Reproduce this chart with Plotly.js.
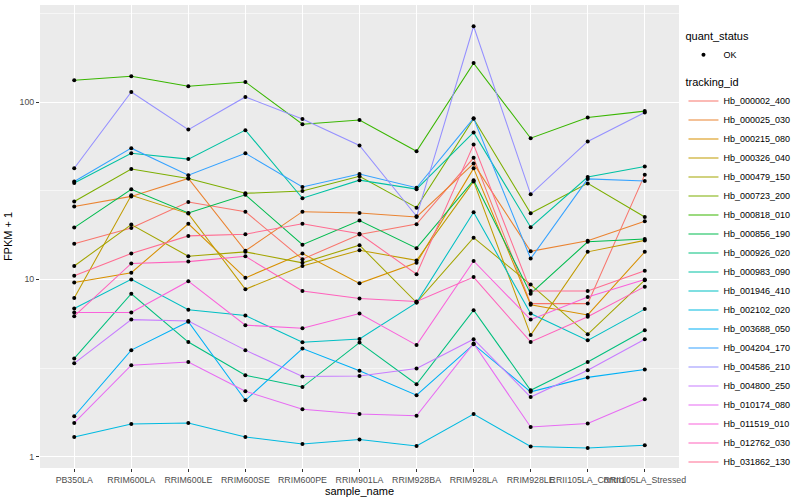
<!DOCTYPE html>
<html>
<head>
<meta charset="utf-8">
<script src="https://cdn.plot.ly/plotly-3.0.1.min.js"></script>
<style>html,body{margin:0;padding:0;background:#fff;}#chart{width:800px;height:500px;}</style>
</head>
<body>
<div id="chart"></div>
<script>
// ---- data (FPKM + 1) ----
var samples = ["PB350LA","RRIM600LA","RRIM600LE","RRIM600SE","RRIM600PE","RRIM901LA","RRIM928BA","RRIM928LA","RRIM928LE","RRII105LA_Control","RRII105LA_Stressed"];

var trackingIds = ["Hb_000002_400","Hb_000025_030","Hb_000215_080","Hb_000326_040","Hb_000479_150","Hb_000723_200","Hb_000818_010","Hb_000856_190","Hb_000926_020","Hb_000983_090","Hb_001946_410","Hb_002102_020","Hb_003688_050","Hb_004204_170","Hb_004586_210","Hb_004800_250","Hb_010174_080","Hb_011519_010","Hb_012762_030","Hb_031862_130"];

var Hb_000002_400 = [15.9, 19.5, 27.3, 24.1, 13.0, 17.9, 20.5, 48.5, 7.3, 7.3, 39.0];
var Hb_000025_030 = [25.8, 29.4, 37.1, 14.5, 24.1, 23.7, 22.5, 45.0, 14.4, 16.5, 21.3];
var Hb_000215_080 = [9.6, 10.9, 20.6, 10.2, 14.0, 9.5, 12.4, 42.3, 7.2, 6.3, 14.3];
var Hb_000326_040 = [7.85, 29.8, 23.5, 8.8, 11.9, 14.6, 12.8, 35.7, 4.85, 14.3, 16.6];
var Hb_000479_150 = [11.9, 20.4, 13.5, 14.3, 12.4, 15.6, 7.4, 17.2, 9.35, 4.9, 9.9];
var Hb_000723_200 = [27.5, 41.9, 37.1, 30.6, 31.5, 38.2, 25.4, 80.5, 23.6, 34.8, 22.5];
var Hb_000818_010 = [133, 140, 123, 130, 75, 79.3, 52.8, 166, 62.6, 82, 89];
var Hb_000856_190 = [19.6, 32.2, 23.7, 30.0, 15.7, 21.5, 15.0, 36.3, 8.3, 16.3, 16.9];
var Hb_000926_020 = [3.58, 8.3, 4.43, 2.88, 2.47, 4.4, 2.56, 6.7, 2.37, 3.42, 5.17];
var Hb_000983_090 = [35.0, 51.5, 47.7, 69.5, 28.7, 36.3, 32.3, 67.5, 19.7, 37.8, 43.3];
var Hb_001946_410 = [6.85, 10.0, 6.75, 6.25, 4.42, 4.61, 7.4, 23.9, 6.42, 4.53, 6.8];
var Hb_002102_020 = [1.29, 1.53, 1.55, 1.29, 1.18, 1.25, 1.15, 1.74, 1.14, 1.12, 1.16];
var Hb_003688_050 = [1.69, 3.99, 5.77, 2.08, 4.07, 3.05, 2.22, 4.3, 2.32, 2.8, 3.1];
var Hb_004204_170 = [35.7, 55, 38.7, 51.5, 33.2, 39.3, 32.9, 81, 13.1, 36.9, 35.9];
var Hb_004586_210 = [42.4, 114, 70, 107, 80.3, 57, 22.7, 268, 30.2, 60, 87.5];
var Hb_004800_250 = [3.36, 5.93, 5.83, 3.99, 2.83, 2.85, 3.14, 4.6, 2.17, 3.07, 4.6];
var Hb_010174_080 = [1.55, 3.28, 3.42, 2.34, 1.85, 1.74, 1.70, 4.35, 1.47, 1.54, 2.11];
var Hb_011519_010 = [6.5, 6.5, 9.77, 5.52, 5.3, 6.42, 4.26, 12.7, 5.93, 7.95, 10.0];
var Hb_012762_030 = [6.2, 12.3, 12.6, 13.5, 8.6, 7.8, 7.5, 10.3, 4.44, 6.15, 9.1];
var Hb_031862_130 = [10.5, 14.0, 17.6, 18.0, 20.6, 18.1, 10.7, 57.6, 8.6, 8.6, 11.2];

var seriesValues = [Hb_000002_400, Hb_000025_030, Hb_000215_080, Hb_000326_040, Hb_000479_150, Hb_000723_200, Hb_000818_010, Hb_000856_190, Hb_000926_020, Hb_000983_090, Hb_001946_410, Hb_002102_020, Hb_003688_050, Hb_004204_170, Hb_004586_210, Hb_004800_250, Hb_010174_080, Hb_011519_010, Hb_012762_030, Hb_031862_130];

var colors = ["#F8766D","#EA8331","#D89000","#C09B00","#A3A500","#7CAE00","#39B600","#00BB4E","#00BF7D","#00C1A3","#00BFC4","#00BAE0","#00B0F6","#35A2FF","#9590FF","#C77CFF","#E76BF3","#FA62DB","#FF62BC","#FF6C91"];

var yMajorTicks = [1, 10, 100];
var yMajorLabels = ["1", "10", "100"];
var yMinorTicks = [3.1623, 31.623, 316.23];

// ---- traces ----
var traces = [];
for (var i = 0; i < trackingIds.length; i++) {
  traces.push({
    type: 'scatter', mode: 'lines',
    x: samples, y: seriesValues[i],
    name: trackingIds[i],
    legend: 'legend2',
    line: {color: colors[i], width: 1.05},
    hoverinfo: 'skip'
  });
}
var px = [], py = [];
for (var j = 0; j < seriesValues.length; j++) {
  for (var k = 0; k < samples.length; k++) { px.push(samples[k]); py.push(seriesValues[j][k]); }
}
traces.push({
  type: 'scatter', mode: 'markers', x: px, y: py, name: 'OK', legend: 'legend',
  marker: {color: '#000000', size: 4}, hoverinfo: 'skip'
});

var layout = {
  width: 800, height: 500,
  margin: {l: 40, r: 117, t: 5, b: 32, pad: 0},
  paper_bgcolor: '#FFFFFF', plot_bgcolor: '#EBEBEB',
  font: {family: 'Liberation Sans, Arial, sans-serif', size: 9, color: '#4D4D4D'},
  showlegend: true,
  xaxis: {
    type: 'category', categoryorder: 'array', categoryarray: samples,
    range: [-0.6, samples.length - 0.4],
    showgrid: true, gridcolor: '#FFFFFF', gridwidth: 1.1,
    zeroline: false, showline: false,
    ticks: 'outside', ticklen: 3, tickwidth: 1, tickcolor: '#333333',
    tickangle: 0,
    tickfont: {size: 8.8, color: '#4D4D4D'},
    title: {text: 'sample_name', font: {size: 11, color: '#000000'}, standoff: 2},
    fixedrange: true
  },
  yaxis: {
    type: 'log', range: [-0.064, 2.548],
    tickmode: 'array', tickvals: yMajorTicks, ticktext: yMajorLabels,
    showgrid: true, gridcolor: '#FFFFFF', gridwidth: 1.1,
    minor: {tickmode: 'array', tickvals: yMinorTicks, showgrid: true, gridcolor: '#FFFFFF', gridwidth: 0.55, ticks: ''},
    zeroline: false, showline: false,
    ticks: 'outside', ticklen: 3, tickwidth: 1, tickcolor: '#333333',
    tickfont: {size: 8.8, color: '#4D4D4D'},
    title: {text: 'FPKM + 1', font: {size: 11, color: '#000000'}, standoff: 4},
    fixedrange: true
  },
  legend: {
    x: 1.007, xanchor: 'left', y: 0.955, yanchor: 'top',
    bgcolor: 'rgba(0,0,0,0)', borderwidth: 0,
    title: {text: 'quant_status', font: {size: 11, color: '#000000'}},
    font: {size: 9, color: '#000000'}, itemwidth: 30, tracegroupgap: 0
  },
  legend2: {
    x: 1.007, xanchor: 'left', y: 0.855, yanchor: 'top',
    bgcolor: 'rgba(0,0,0,0)', borderwidth: 0,
    title: {text: 'tracking_id', font: {size: 11, color: '#000000'}},
    font: {size: 9, color: '#000000'}, itemwidth: 30, tracegroupgap: 0
  }
};

Plotly.newPlot('chart', traces, layout, {displayModeBar: false, staticPlot: true});
</script>
</body>
</html>
